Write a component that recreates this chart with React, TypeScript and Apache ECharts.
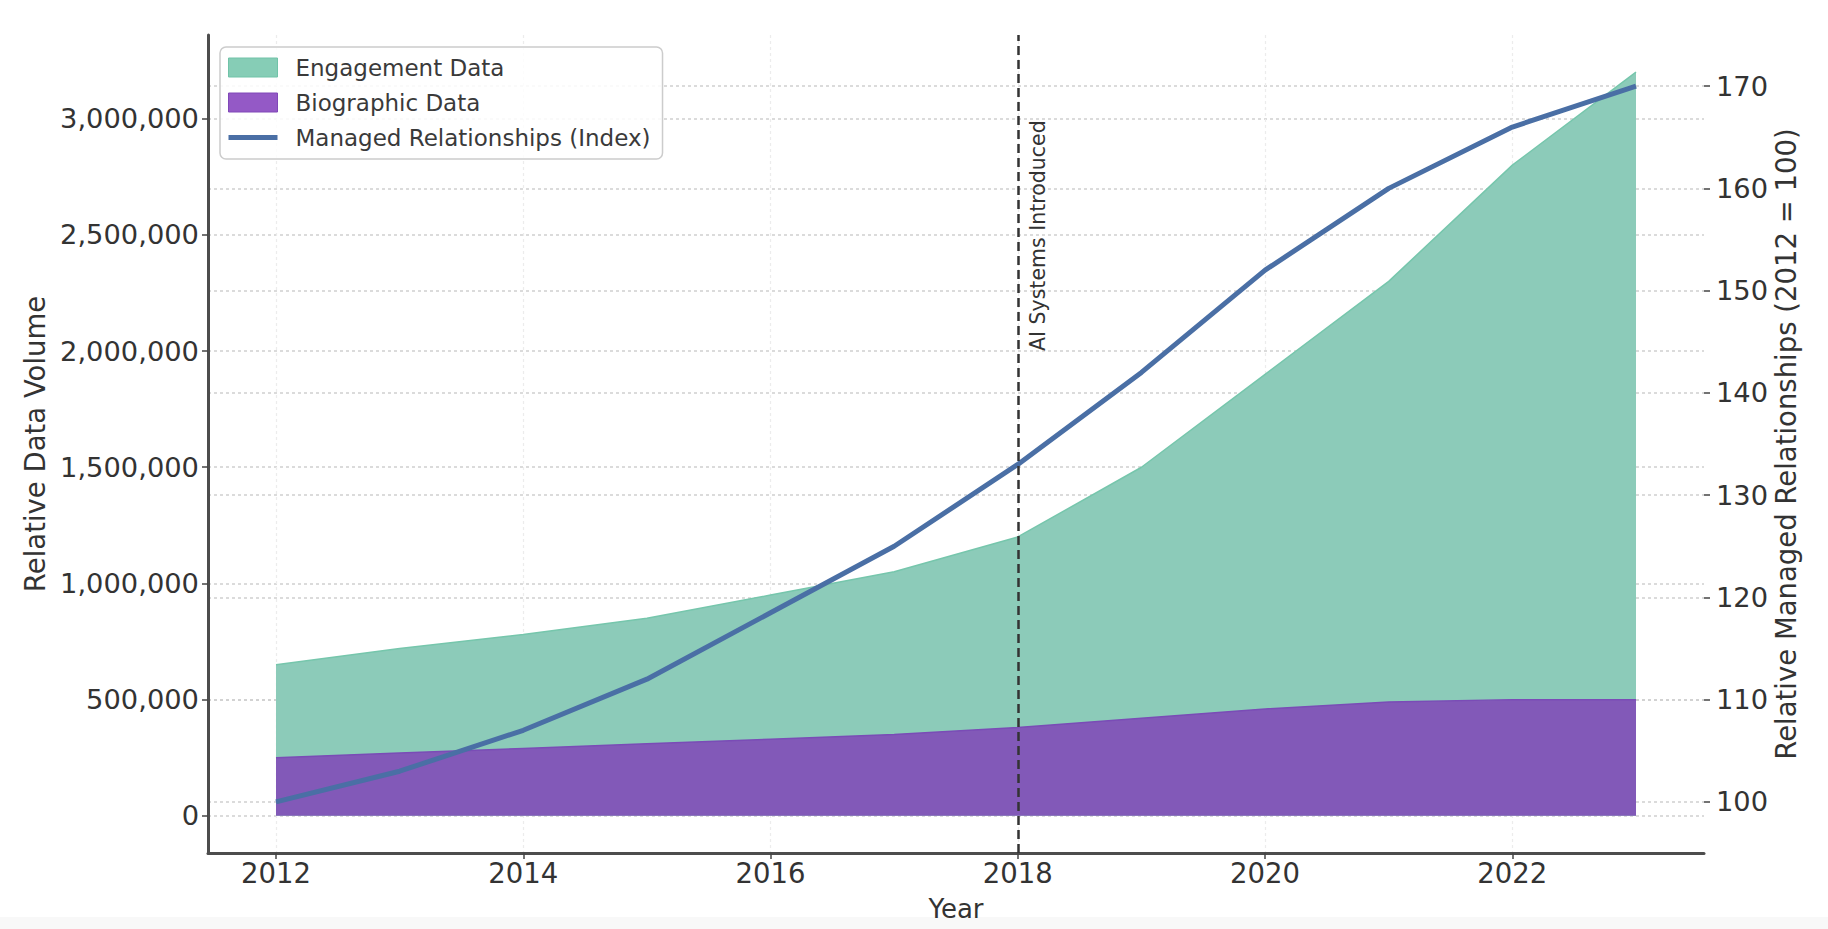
import React, { useEffect, useRef } from "react";
import * as echarts from "echarts";

const years = [2012, 2013, 2014, 2015, 2016, 2017, 2018, 2019, 2020, 2021, 2022, 2023];
const engagementData = [650000, 720000, 780000, 850000, 950000, 1050000, 1200000, 1500000, 1900000, 2300000, 2800000, 3200000];
const biographicData = [250000, 270000, 290000, 310000, 330000, 350000, 380000, 420000, 460000, 490000, 500000, 500000];
const managedIndex = [100, 103, 107, 112, 118.5, 125, 133, 142, 152, 160, 166, 170];

const xTicks = [2012, 2014, 2016, 2018, 2020, 2022];
const leftTicks = [0, 500000, 1000000, 1500000, 2000000, 2500000, 3000000];
const rightTicks = [100, 110, 120, 130, 140, 150, 160, 170];

const aiYear = 2018;
const aiLabel = "AI Systems Introduced";
const aiLabelPos = [2018.08, 2000000];
const rightAxisName = "Relative Managed Relationships (2012 = 100)";

const FONT = "DejaVu Sans";
const TEXT = "#333333";

export default function App() {
  const ref = useRef<HTMLDivElement>(null);

  useEffect(() => {
    document.body.style.margin = "0";
    const chart = echarts.init(ref.current as HTMLDivElement, null, { renderer: "svg" });

    const pairs = (vals: number[]) => years.map((y, i) => [y, vals[i]]);
    const gridLine = { show: true, lineStyle: { type: [3, 3], color: "#cfcfcf", width: 1.5 } };
    const gridLeft = 208;
    const gridRightEdge = 1704;
    const gridTop = 35;
    const gridBottomEdge = 853;

    const option: any = {
      animation: false,
      backgroundColor: "#ffffff",
      textStyle: { fontFamily: FONT },
      grid: { left: gridLeft, right: 1828 - gridRightEdge, top: gridTop, bottom: 929 - gridBottomEdge },
      legend: {
        orient: "vertical",
        left: 220,
        top: 47,
        padding: [9, 12, 10, 8],
        itemWidth: 49,
        itemHeight: 19,
        itemGap: 12,
        backgroundColor: "rgba(255,255,255,0.85)",
        borderColor: "#cccccc",
        borderWidth: 1.5,
        borderRadius: 6,
        textStyle: { fontSize: 23, color: "#3a3a3a", fontFamily: FONT, lineHeight: 19, padding: [0, 0, 0, 13] },
        data: [
          { name: "Engagement Data", icon: "rect", itemStyle: { color: "#86cdb6", borderColor: "#70c3a8", borderWidth: 1 } },
          { name: "Biographic Data", icon: "rect", itemStyle: { color: "#9459c6", borderColor: "#8048b8", borderWidth: 1 } },
          { name: "Managed Relationships (Index)", icon: "path://M0,0 H49 V5 H0 Z", itemStyle: { color: "#4a6fa5", borderWidth: 0 } },
        ],
      },
      xAxis: {
        type: "value",
        min: 2011.45,
        max: 2023.55,
        name: "Year",
        nameLocation: "middle",
        nameGap: 43,
        nameTextStyle: { fontSize: 26, color: TEXT, fontFamily: FONT },
        axisLine: { show: true, onZero: false, lineStyle: { color: "#4d4d4d", width: 3 } },
        axisTick: { show: true, customValues: xTicks, length: 6, lineStyle: { color: "#444", width: 1.5 } },
        axisLabel: { customValues: xTicks, fontSize: 27.5, color: TEXT, margin: 6, fontFamily: FONT, formatter: (v: number) => String(v) },
        splitLine: { show: true, lineStyle: { type: [3, 3], color: "#ececec", width: 1.2 } },
      },
      yAxis: [
        {
          type: "value",
          position: "left",
          min: -160000,
          max: 3360000,
          name: "Relative Data Volume",
          nameLocation: "middle",
          nameGap: 158,
          nameTextStyle: { fontSize: 27.5, color: TEXT, fontFamily: FONT },
          axisLine: { show: true, onZero: false, lineStyle: { color: "#4d4d4d", width: 3 } },
          axisTick: { show: true, customValues: leftTicks, length: 6, lineStyle: { color: "#444", width: 1.5 } },
          axisLabel: {
            customValues: leftTicks,
            fontSize: 27.3,
            color: TEXT,
            margin: 9,
            fontFamily: FONT,
            formatter: (v: number) => v.toLocaleString("en-US"),
          },
          splitLine: gridLine,
        },
        {
          type: "value",
          position: "right",
          min: 95,
          max: 175,
          axisLine: { show: false },
          axisTick: { show: true, customValues: rightTicks, length: 6, lineStyle: { color: "#444", width: 1.5 } },
          axisLabel: { customValues: rightTicks, fontSize: 27.3, color: TEXT, margin: 12, fontFamily: FONT },
          splitLine: gridLine,
        },
      ],
      series: [
        {
          name: "Engagement Data",
          type: "line",
          yAxisIndex: 0,
          data: pairs(engagementData),
          symbol: "none",
          z: 1,
          itemStyle: { color: "#8ccbb9" },
          lineStyle: { color: "#76c6ac", width: 1.5 },
          areaStyle: { color: "#8ccbb9", opacity: 1, origin: "auto" },
        },
        {
          name: "Biographic Data",
          type: "line",
          yAxisIndex: 0,
          data: pairs(biographicData),
          symbol: "none",
          z: 2,
          itemStyle: { color: "#8259b8" },
          lineStyle: { color: "#7a4cb6", width: 1.5 },
          areaStyle: { color: "#8259b8", opacity: 1, origin: "auto" },
        },
        {
          name: "Managed Relationships (Index)",
          type: "line",
          yAxisIndex: 1,
          data: pairs(managedIndex),
          symbol: "none",
          z: 4,
          itemStyle: { color: "#4a6fa5" },
          lineStyle: { color: "#4a6fa5", width: 5 },
          markLine: {
            silent: true,
            symbol: "none",
            label: { show: false },
            lineStyle: { color: "#333333", type: [9, 5], width: 2.5 },
            data: [{ xAxis: aiYear }],
          },
        },
      ],
    };

    chart.setOption(option);

    const p = chart.convertToPixel({ xAxisIndex: 0, yAxisIndex: 0 }, aiLabelPos) as number[];
    chart.setOption({
      graphic: [
        {
          type: "text",
          x: p[0],
          y: p[1],
          rotation: Math.PI / 2,
          z: 10,
          style: {
            text: aiLabel,
            fontSize: 20.5,
            fontFamily: FONT,
            fill: TEXT,
            align: "left",
            verticalAlign: "top",
            textAlign: "left",
            textVerticalAlign: "top",
          },
        },
        {
          type: "text",
          x: gridRightEdge + 82,
          y: (gridTop + gridBottomEdge) / 2,
          rotation: Math.PI / 2,
          z: 10,
          style: {
            text: rightAxisName,
            fontSize: 27.5,
            fontFamily: FONT,
            fill: TEXT,
            align: "center",
            verticalAlign: "middle",
            textAlign: "center",
            textVerticalAlign: "middle",
          },
        },
        {
          type: "rect",
          shape: { x: 0, y: 917, width: 1828, height: 12 },
          style: { fill: "#f8f8f8" },
          z: -1,
          silent: true,
        },
      ],
    });

    return () => chart.dispose();
  }, []);

  return <div ref={ref} style={{ width: 1828, height: 929 }} />;
}
